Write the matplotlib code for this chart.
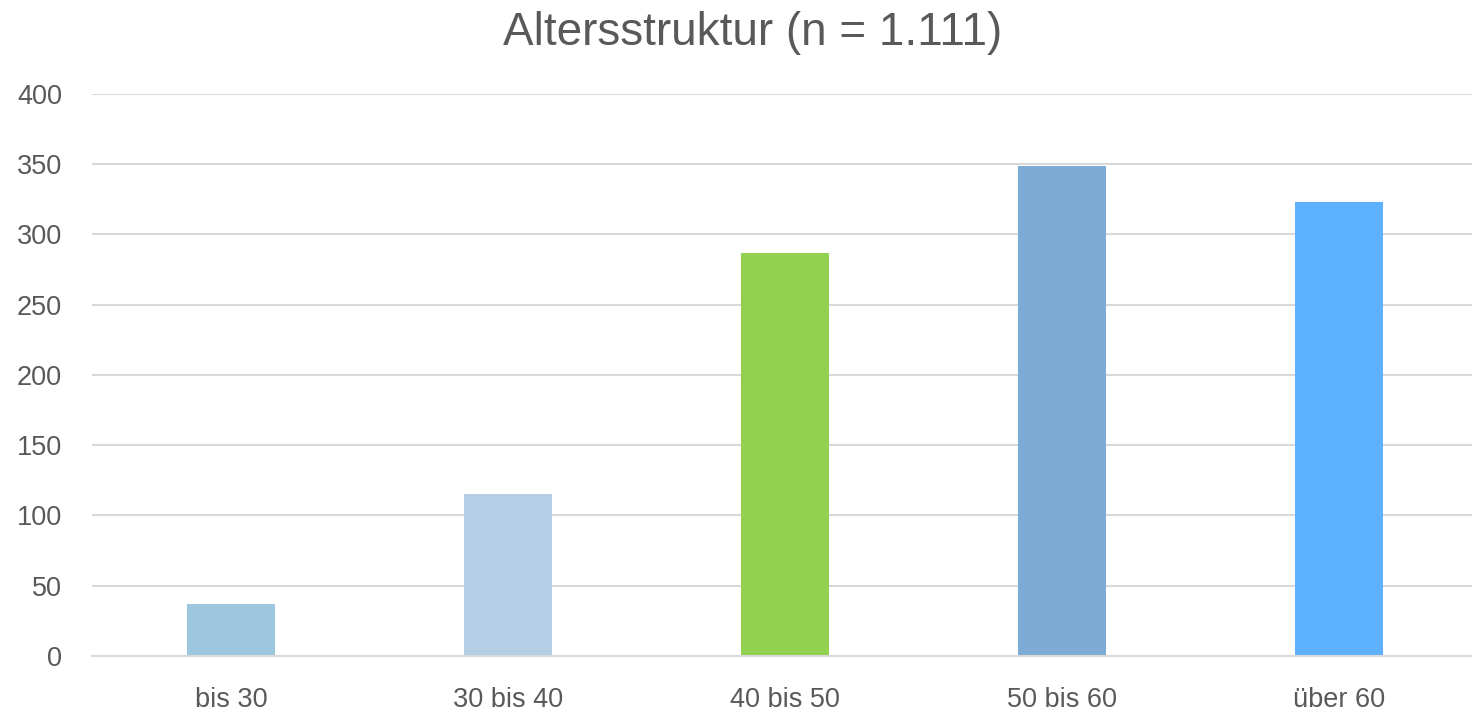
import numpy as np
import matplotlib
matplotlib.use('Agg')
import matplotlib.pyplot as plt

# Data
categories = ['bis 30', '30 bis 40', '40 bis 50', '50 bis 60', 'über 60']
counts = [37, 115, 287, 349, 323]
bar_colors = ['#9dc7de', '#b4cfe5', '#92d050', '#7cabd5', '#5db1fe']
y_ticks = [0, 50, 100, 150, 200, 250, 300, 350, 400]

text_color = '#595959'
grid_color = '#d9d9d9'

plt.rcParams['font.family'] = ['Liberation Sans', 'DejaVu Sans']

fig = plt.figure(figsize=(14.72, 7.11), dpi=100)
# plot area runs slightly past the right edge, as in the reference
ax = fig.add_axes([0.0628, 0.0774, 0.9409, 0.7904])

x = np.arange(len(categories))
ax.bar(x, counts, width=0.32, color=bar_colors, zorder=3)

ax.set_xlim(-0.5, len(categories) - 0.5)
ax.set_ylim(0, 400)
ax.set_yticks(y_ticks)
ax.set_xticks(x)
ax.set_xticklabels(categories)

ax.yaxis.grid(True, color=grid_color, linewidth=1.5, zorder=0)
ax.set_axisbelow(True)
for side in ['top', 'right', 'left']:
    ax.spines[side].set_visible(False)
ax.spines['bottom'].set_color(grid_color)
ax.spines['bottom'].set_linewidth(1.5)
ax.spines['bottom'].set_zorder(4)

ax.tick_params(axis='y', length=0, pad=22, labelsize=19.5, labelcolor=text_color)
ax.tick_params(axis='x', length=0, pad=22, labelsize=19.5, labelcolor=text_color)

fig.text(0.511, 0.953, 'Altersstruktur (n = 1.111)', ha='center', va='center',
         fontsize=33, color=text_color)

fig.savefig('out.png', dpi=100)
